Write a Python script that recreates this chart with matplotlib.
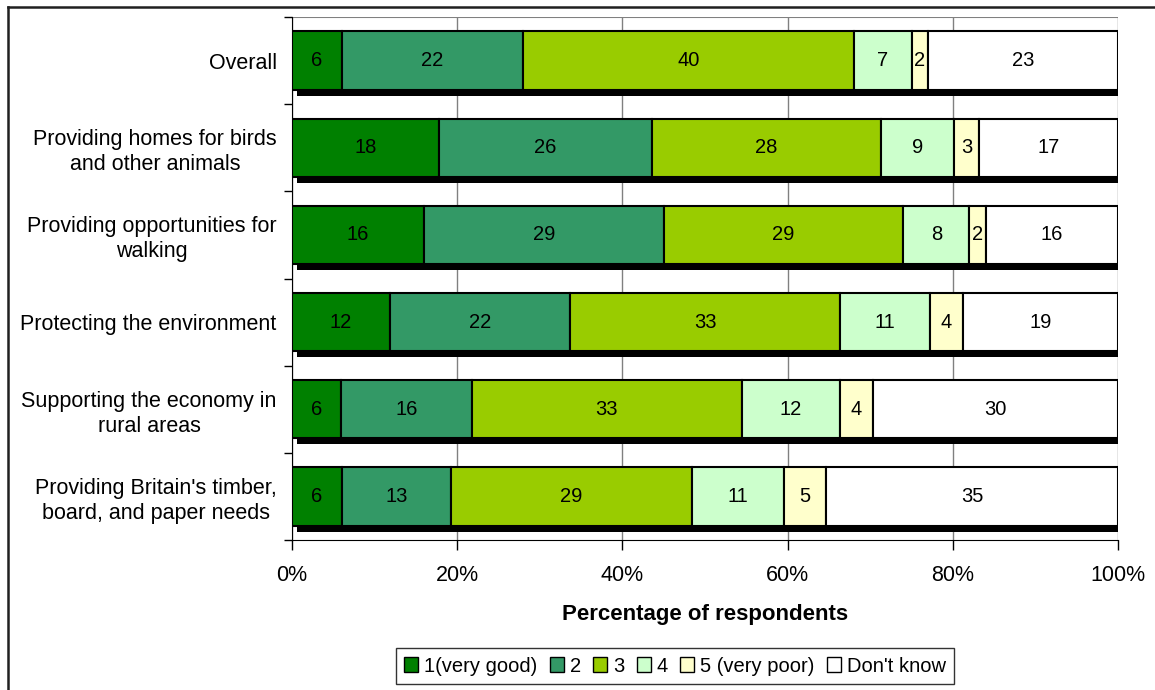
import matplotlib
matplotlib.use("Agg")
import matplotlib.pyplot as plt
import matplotlib.transforms as mtransforms
from matplotlib.patches import Patch
from matplotlib.lines import Line2D
import numpy as np

plt.rcParams['font.family'] = ['Liberation Sans', 'DejaVu Sans']

categories = ["Overall",
              "Providing homes for birds\nand other animals",
              "Providing opportunities for\nwalking",
              "Protecting the environment",
              "Supporting the economy in\nrural areas",
              "Providing Britain's timber,\nboard, and paper needs"]
series_names = ["1(very good)", "2", "3", "4", "5 (very poor)", "Don't know"]
values = [
    [6, 22, 40, 7, 2, 23],
    [18, 26, 28, 9, 3, 17],
    [16, 29, 29, 8, 2, 16],
    [12, 22, 33, 11, 4, 19],
    [6, 16, 33, 12, 4, 30],
    [6, 13, 29, 11, 5, 35],
]
colors = ["#008000", "#339966", "#99CC00", "#CCFFCC", "#FFFFCC", "#FFFFFF"]
xticks = [0, 20, 40, 60, 80, 100]
xticklabels = ["0%", "20%", "40%", "60%", "80%", "100%"]

W, H = 1155, 690
fig = plt.figure(figsize=(W / 100, H / 100), dpi=100)
ax = fig.add_axes([292 / W, 1 - 540 / H, (1118 - 292) / W, (540 - 17) / H])

y = np.arange(len(categories))
bar_h = 0.67
vals = np.array(values, dtype=float)
pct = vals / vals.sum(axis=1, keepdims=True) * 100

# shadows
shadow_tr = mtransforms.offset_copy(ax.transData, fig=fig, x=5, y=-6, units='dots')
for i in range(len(categories)):
    ax.barh(y[i], 100, height=bar_h, left=0, color='black', transform=shadow_tr, zorder=2)

left = np.zeros(len(categories))
for j, name in enumerate(series_names):
    ax.barh(y, pct[:, j], height=bar_h, left=left, color=colors[j],
            edgecolor='black', linewidth=1.5, zorder=3)
    for i in range(len(categories)):
        ax.text(left[i] + pct[i, j] / 2, y[i], str(values[i][j]),
                ha='center', va='center', fontsize=14.5, zorder=4)
    left += pct[:, j]

ax.set_xlim(0, 100)
ax.set_ylim(len(categories) - 0.5, -0.5)
ax.set_xticks(xticks)
ax.set_xticklabels(xticklabels, fontsize=15.5)
ax.set_yticks(y)
ax.set_yticklabels(categories, fontsize=15.5, multialignment='center', linespacing=1.25)
ax.tick_params(axis='y', length=0, pad=11)
ax.set_yticks(np.arange(-0.5, len(categories)), minor=True)
ax.tick_params(axis='y', which='minor', length=6, width=1, color='black')
ax.tick_params(axis='x', length=7, width=1, pad=11, color='black')
ax.grid(axis='x', color='#808080', linewidth=1, zorder=0)
ax.set_axisbelow(True)
for s in ['top', 'right']:
    ax.spines[s].set_visible(False)
ax.spines['left'].set_color('black')
ax.spines['bottom'].set_color('black')
ax.set_xlabel("Percentage of respondents", fontsize=16, fontweight='bold', labelpad=13)

# gray top line of plot area
ax.axhline(-0.5, color='#808080', linewidth=1.5, zorder=1)

handles = [Patch(facecolor=c, edgecolor='black', linewidth=1) for c in colors]
leg = fig.legend(handles, series_names, loc='center', bbox_to_anchor=(675 / W, 1 - 666 / H),
                 ncol=6, fontsize=14.5, frameon=True, fancybox=False, edgecolor='black',
                 handlelength=0.7, handleheight=0.7, handletextpad=0.3, columnspacing=0.6,
                 borderpad=0.4)
leg.get_frame().set_linewidth(1)

# outer chart frame
fig.add_artist(Line2D([8 / W, 1], [1 - 7 / H, 1 - 7 / H], transform=fig.transFigure, color='#202020', linewidth=1.8))
fig.add_artist(Line2D([8 / W, 8 / W], [0, 1 - 7 / H], transform=fig.transFigure, color='#202020', linewidth=1.8))

fig.savefig("out.png", dpi=100)
